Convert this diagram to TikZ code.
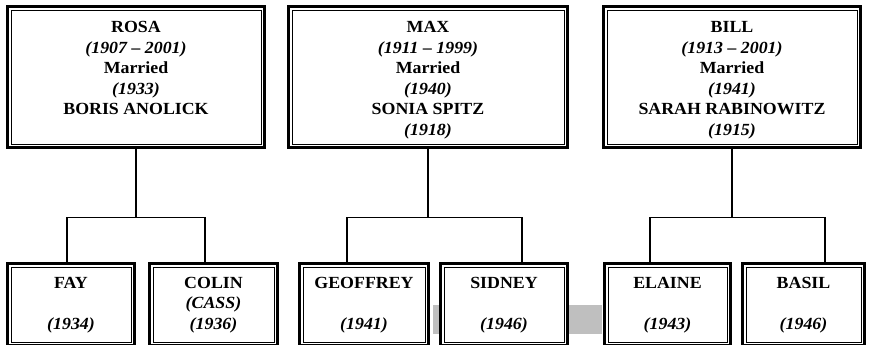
\documentclass[tikz,border=0pt]{standalone}
\usepackage{fontspec}
\setmainfont[FakeStretch=1.05]{Liberation Serif}
\newcommand\persontext[1]{\begin{tabular}[t]{@{}c@{}}#1\end{tabular}}
\begin{document}
\begin{tikzpicture}[
    x=1pt,y=-1pt,
    person/.style={draw,line width=3pt,fill=white,outer sep=0pt,inner sep=0pt,
      anchor=north west,
      font=\fontsize{17}{20.5}\selectfont\bfseries,
      path picture={\draw[line width=.8pt]
        ([shift={(3.5pt,-3.5pt)}]path picture bounding box.north west) rectangle
        ([shift={(-3.5pt,3.5pt)}]path picture bounding box.south east);}},
    parent/.style={person,text height=26.5pt,text depth=114.5pt},
    child/.style={person,text height=24.5pt,text depth=57.5pt},
    link/.style={line width=1.8pt}
  ]
  \useasboundingbox (0,0) rectangle (872,345);
  \fill[black!25] (433,305) rectangle (602,334);

  % parents
  \node[parent,minimum width=257pt] (rosa) at (7.5,6.5)
    {\persontext{ROSA\\\textit{(1907 -- 2001)}\\Married\\\textit{(1933)}\\BORIS ANOLICK}};
  \node[parent,minimum width=279pt] (max) at (288.5,6.5)
    {\persontext{MAX\\\textit{(1911 -- 1999)}\\Married\\\textit{(1940)}\\SONIA SPITZ\\\textit{(1918)}}};
  \node[parent,minimum width=257pt] (bill) at (603.5,6.5)
    {\persontext{BILL\\\textit{(1913 -- 2001)}\\Married\\\textit{(1941)}\\SARAH RABINOWITZ\\\textit{(1915)}}};

  % children
  \node[child,minimum width=127pt] (fay) at (7.5,263.5) {\persontext{FAY\\ \\\textit{(1934)}}};
  \node[child,minimum width=128pt] (colin) at (149.5,263.5) {\persontext{COLIN\\\textit{(CASS)}\\\textit{(1936)}}};
  \node[child,minimum width=129pt] (geoffrey) at (299.5,263.5) {\persontext{GEOFFREY\\ \\\textit{(1941)}}};
  \node[child,minimum width=127pt] (sidney) at (440.5,263.5) {\persontext{SIDNEY\\ \\\textit{(1946)}}};
  \node[child,minimum width=126pt] (elaine) at (604.5,263.5) {\persontext{ELAINE\\ \\\textit{(1943)}}};
  \node[child,minimum width=122pt] (basil) at (742.5,263.5) {\persontext{BASIL\\ \\\textit{(1946)}}};

  % family lines
  \draw[link] (rosa.south) -- ++(0,70) coordinate (rosa-bar);
  \draw[link] ([xshift=-4pt]fay.north) |- (rosa-bar) -| ([xshift=-8.5pt]colin.north);
  \draw[link] (max.south) -- ++(0,70) coordinate (max-bar);
  \draw[link] ([xshift=-17pt]geoffrey.north) |- (max-bar) -| ([xshift=18pt]sidney.north);
  \draw[link] (bill.south) -- ++(0,70) coordinate (bill-bar);
  \draw[link] ([xshift=-17.5pt]elaine.north) |- (bill-bar) -| ([xshift=21.5pt]basil.north);
\end{tikzpicture}
\end{document}
